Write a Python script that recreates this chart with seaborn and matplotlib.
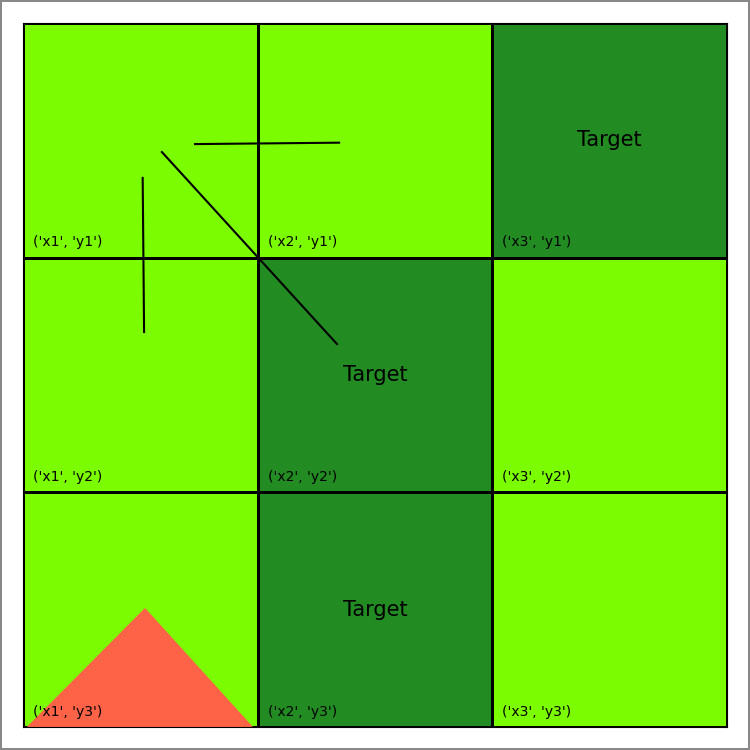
import matplotlib
matplotlib.use('Agg')
import matplotlib.pyplot as plt
from matplotlib.colors import ListedColormap
import seaborn as sns
import numpy as np

xs = ['x1', 'x2', 'x3']
ys = ['y1', 'y2', 'y3']
targets = [('x3', 'y1'), ('x2', 'y2'), ('x2', 'y3')]

# agent arrows / traces in grid units
seg_x = [[0.510, 0.516], [0.733, 1.347], [0.592, 1.338]]
seg_y = [[0.660, 1.317], [0.516, 0.510], [0.550, 1.368]]
tri_x = [0.02, 0.52, 0.976]
tri_y = [3.0, 2.497, 3.0]

grid = np.array([[1 if (x, y) in targets else 0 for x in xs] for y in ys])

fig = plt.figure(figsize=(7.5, 7.5), dpi=100)
fig.patch.set_edgecolor('#888888')
fig.patch.set_linewidth(1.5)
ax = fig.add_axes([23 / 750, 23 / 750, 704 / 750, 704 / 750])
sns.heatmap(grid, ax=ax, cmap=ListedColormap(['#7CFC00', '#228B22']),
            cbar=False, linewidths=1, linecolor='black', square=True)
ax.set_xticks([])
ax.set_yticks([])
for s in ax.spines.values():
    s.set_visible(True)
    s.set_color('black')

for i, y in enumerate(ys):
    for j, x in enumerate(xs):
        ax.text(j + 0.043, i + 0.935, f"('{x}', '{y}')", fontsize=10, va='center')
        if (x, y) in targets:
            ax.text(j + 0.5, i + 0.5, 'Target', fontsize=15, ha='center', va='center')

for sx, sy in zip(seg_x, seg_y):
    ax.plot(sx, sy, color='black', lw=1.5)
ax.fill(tri_x, tri_y, color='#FF6347', zorder=1.5)

fig.savefig('out.png', dpi=100)
